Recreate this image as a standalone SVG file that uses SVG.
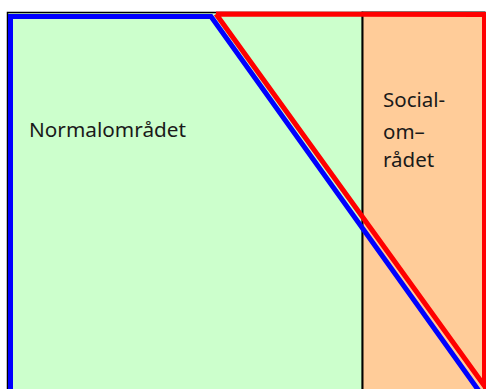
<svg xmlns="http://www.w3.org/2000/svg" width="486" height="389" viewBox="0 0 486 389">
<style>
.lbl{font-family:"Noto Sans","Open Sans",sans-serif;font-size:20.5px;fill:#1a1a1a}
.edge{fill:none;stroke-linejoin:miter;stroke-linecap:butt}
</style>
<rect width="486" height="389" fill="#ffffff"/>
<g id="normal">
<rect x="7.5" y="12.5" width="355" height="380" fill="#CCFFCC" stroke="#000000" stroke-width="1.5"/>
<text class="lbl" x="29" y="137" textLength="157" lengthAdjust="spacingAndGlyphs">Normalområdet</text>
</g>
<g id="social">
<rect x="362.5" y="12.5" width="122" height="380" fill="#FFCC99" stroke="#000000" stroke-width="2"/>
<text class="lbl" x="383" y="107">Social-</text>
<text class="lbl" x="383" y="139">om–</text>
<text class="lbl" x="383" y="167">rådet</text>
</g>
<g id="connectors">
<polyline class="edge" points="10.5,395 10.5,16.5 211,16.5 479,391" stroke="#0000FF" stroke-width="5"/>
<polyline class="edge" points="216,14 484.5,14.5 484.5,386 216,14" stroke="#FF0000" stroke-width="5"/>
</g>
</svg>
